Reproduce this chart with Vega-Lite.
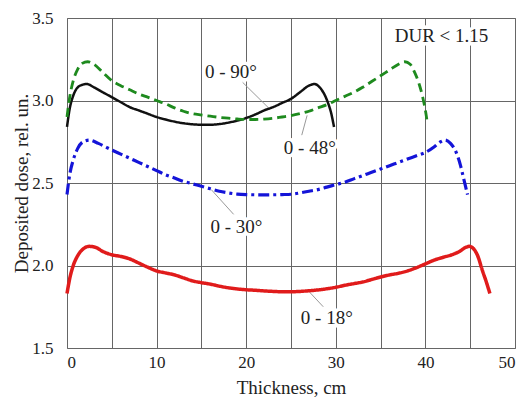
{
  "$schema": "https://vega.github.io/schema/vega-lite/v6.json",
  "width": 448,
  "height": 330,
  "autosize": "none",
  "padding": {"left": 67, "top": 18, "right": 15, "bottom": 49},
  "background": "white",
  "config": {
    "view": {"stroke": "#888", "strokeWidth": 1},
    "font": "Liberation Serif, DejaVu Serif, serif",
    "axis": {
      "domain": false,
      "ticks": false,
      "grid": true,
      "gridColor": "#666",
      "gridWidth": 1,
      "labelFont": "Liberation Serif, DejaVu Serif, serif",
      "labelFontSize": 17,
      "labelColor": "#222",
      "titleFont": "Liberation Serif, DejaVu Serif, serif",
      "titleFontSize": 19,
      "titleFontWeight": "normal",
      "titleColor": "#222"
    }
  },
  "datasets": {
    "curves": [
      {"s": "0 - 90°", "x": 0, "y": 2.84}, {"s": "0 - 90°", "x": 0.3, "y": 2.95}, {"s": "0 - 90°", "x": 0.7, "y": 3.03}, {"s": "0 - 90°", "x": 1.2, "y": 3.08}, {"s": "0 - 90°", "x": 1.7, "y": 3.095}, {"s": "0 - 90°", "x": 2.2, "y": 3.1}, {"s": "0 - 90°", "x": 3, "y": 3.08}, {"s": "0 - 90°", "x": 4, "y": 3.05}, {"s": "0 - 90°", "x": 5, "y": 3.02}, {"s": "0 - 90°", "x": 6, "y": 2.99}, {"s": "0 - 90°", "x": 7, "y": 2.96}, {"s": "0 - 90°", "x": 8, "y": 2.94}, {"s": "0 - 90°", "x": 9, "y": 2.92}, {"s": "0 - 90°", "x": 10, "y": 2.9}, {"s": "0 - 90°", "x": 11, "y": 2.885}, {"s": "0 - 90°", "x": 12, "y": 2.872}, {"s": "0 - 90°", "x": 13, "y": 2.862}, {"s": "0 - 90°", "x": 14, "y": 2.856}, {"s": "0 - 90°", "x": 15, "y": 2.853}, {"s": "0 - 90°", "x": 16, "y": 2.853}, {"s": "0 - 90°", "x": 17, "y": 2.857}, {"s": "0 - 90°", "x": 18, "y": 2.866}, {"s": "0 - 90°", "x": 19, "y": 2.878}, {"s": "0 - 90°", "x": 20, "y": 2.894}, {"s": "0 - 90°", "x": 21, "y": 2.915}, {"s": "0 - 90°", "x": 22, "y": 2.94}, {"s": "0 - 90°", "x": 23, "y": 2.96}, {"s": "0 - 90°", "x": 24, "y": 2.985}, {"s": "0 - 90°", "x": 25, "y": 3.01}, {"s": "0 - 90°", "x": 26, "y": 3.05}, {"s": "0 - 90°", "x": 27, "y": 3.09}, {"s": "0 - 90°", "x": 27.6, "y": 3.1}, {"s": "0 - 90°", "x": 28.2, "y": 3.08}, {"s": "0 - 90°", "x": 28.7, "y": 3.04}, {"s": "0 - 90°", "x": 29.1, "y": 2.99}, {"s": "0 - 90°", "x": 29.5, "y": 2.92}, {"s": "0 - 90°", "x": 29.8, "y": 2.84},

      {"s": "0 - 48°", "x": 0, "y": 2.9}, {"s": "0 - 48°", "x": 0.3, "y": 3.02}, {"s": "0 - 48°", "x": 0.7, "y": 3.12}, {"s": "0 - 48°", "x": 1.2, "y": 3.19}, {"s": "0 - 48°", "x": 1.7, "y": 3.225}, {"s": "0 - 48°", "x": 2.3, "y": 3.235}, {"s": "0 - 48°", "x": 3, "y": 3.22}, {"s": "0 - 48°", "x": 4, "y": 3.17}, {"s": "0 - 48°", "x": 5, "y": 3.12}, {"s": "0 - 48°", "x": 6, "y": 3.09}, {"s": "0 - 48°", "x": 7, "y": 3.065}, {"s": "0 - 48°", "x": 8, "y": 3.04}, {"s": "0 - 48°", "x": 9, "y": 3.02}, {"s": "0 - 48°", "x": 10, "y": 3.0}, {"s": "0 - 48°", "x": 11, "y": 2.98}, {"s": "0 - 48°", "x": 12, "y": 2.955}, {"s": "0 - 48°", "x": 13, "y": 2.935}, {"s": "0 - 48°", "x": 14, "y": 2.92}, {"s": "0 - 48°", "x": 15, "y": 2.912}, {"s": "0 - 48°", "x": 16, "y": 2.905}, {"s": "0 - 48°", "x": 17, "y": 2.898}, {"s": "0 - 48°", "x": 18, "y": 2.893}, {"s": "0 - 48°", "x": 19, "y": 2.888}, {"s": "0 - 48°", "x": 20, "y": 2.885}, {"s": "0 - 48°", "x": 21, "y": 2.885}, {"s": "0 - 48°", "x": 22, "y": 2.887}, {"s": "0 - 48°", "x": 23, "y": 2.892}, {"s": "0 - 48°", "x": 24, "y": 2.9}, {"s": "0 - 48°", "x": 25, "y": 2.908}, {"s": "0 - 48°", "x": 26, "y": 2.92}, {"s": "0 - 48°", "x": 27, "y": 2.935}, {"s": "0 - 48°", "x": 28, "y": 2.955}, {"s": "0 - 48°", "x": 29, "y": 2.975}, {"s": "0 - 48°", "x": 30, "y": 3.0}, {"s": "0 - 48°", "x": 31, "y": 3.025}, {"s": "0 - 48°", "x": 32, "y": 3.05}, {"s": "0 - 48°", "x": 33, "y": 3.08}, {"s": "0 - 48°", "x": 34, "y": 3.115}, {"s": "0 - 48°", "x": 35, "y": 3.15}, {"s": "0 - 48°", "x": 36, "y": 3.185}, {"s": "0 - 48°", "x": 37, "y": 3.22}, {"s": "0 - 48°", "x": 37.7, "y": 3.235}, {"s": "0 - 48°", "x": 38.3, "y": 3.22}, {"s": "0 - 48°", "x": 38.8, "y": 3.17}, {"s": "0 - 48°", "x": 39.3, "y": 3.1}, {"s": "0 - 48°", "x": 39.7, "y": 3.02}, {"s": "0 - 48°", "x": 40.0, "y": 2.94}, {"s": "0 - 48°", "x": 40.2, "y": 2.87},

      {"s": "0 - 30°", "x": 0, "y": 2.43}, {"s": "0 - 30°", "x": 0.3, "y": 2.55}, {"s": "0 - 30°", "x": 0.7, "y": 2.64}, {"s": "0 - 30°", "x": 1.2, "y": 2.71}, {"s": "0 - 30°", "x": 1.8, "y": 2.75}, {"s": "0 - 30°", "x": 2.5, "y": 2.76}, {"s": "0 - 30°", "x": 3.5, "y": 2.74}, {"s": "0 - 30°", "x": 5, "y": 2.7}, {"s": "0 - 30°", "x": 6, "y": 2.675}, {"s": "0 - 30°", "x": 7, "y": 2.65}, {"s": "0 - 30°", "x": 8, "y": 2.625}, {"s": "0 - 30°", "x": 9, "y": 2.6}, {"s": "0 - 30°", "x": 10, "y": 2.575}, {"s": "0 - 30°", "x": 11, "y": 2.55}, {"s": "0 - 30°", "x": 12, "y": 2.53}, {"s": "0 - 30°", "x": 13, "y": 2.51}, {"s": "0 - 30°", "x": 14, "y": 2.495}, {"s": "0 - 30°", "x": 15, "y": 2.48}, {"s": "0 - 30°", "x": 16, "y": 2.465}, {"s": "0 - 30°", "x": 17, "y": 2.45}, {"s": "0 - 30°", "x": 18, "y": 2.44}, {"s": "0 - 30°", "x": 19, "y": 2.433}, {"s": "0 - 30°", "x": 20, "y": 2.43}, {"s": "0 - 30°", "x": 22, "y": 2.428}, {"s": "0 - 30°", "x": 24, "y": 2.43}, {"s": "0 - 30°", "x": 25, "y": 2.432}, {"s": "0 - 30°", "x": 26, "y": 2.44}, {"s": "0 - 30°", "x": 27, "y": 2.45}, {"s": "0 - 30°", "x": 28, "y": 2.46}, {"s": "0 - 30°", "x": 29, "y": 2.475}, {"s": "0 - 30°", "x": 30, "y": 2.49}, {"s": "0 - 30°", "x": 31, "y": 2.505}, {"s": "0 - 30°", "x": 32, "y": 2.525}, {"s": "0 - 30°", "x": 33, "y": 2.545}, {"s": "0 - 30°", "x": 34, "y": 2.565}, {"s": "0 - 30°", "x": 35, "y": 2.585}, {"s": "0 - 30°", "x": 36, "y": 2.605}, {"s": "0 - 30°", "x": 37, "y": 2.625}, {"s": "0 - 30°", "x": 38, "y": 2.645}, {"s": "0 - 30°", "x": 39, "y": 2.665}, {"s": "0 - 30°", "x": 40, "y": 2.685}, {"s": "0 - 30°", "x": 41, "y": 2.72}, {"s": "0 - 30°", "x": 41.7, "y": 2.75}, {"s": "0 - 30°", "x": 42.2, "y": 2.76}, {"s": "0 - 30°", "x": 42.8, "y": 2.74}, {"s": "0 - 30°", "x": 43.4, "y": 2.69}, {"s": "0 - 30°", "x": 43.9, "y": 2.61}, {"s": "0 - 30°", "x": 44.3, "y": 2.52}, {"s": "0 - 30°", "x": 44.7, "y": 2.43},

      {"s": "0 - 18°", "x": 0, "y": 1.83}, {"s": "0 - 18°", "x": 0.3, "y": 1.92}, {"s": "0 - 18°", "x": 0.7, "y": 2.0}, {"s": "0 - 18°", "x": 1.2, "y": 2.06}, {"s": "0 - 18°", "x": 1.8, "y": 2.1}, {"s": "0 - 18°", "x": 2.5, "y": 2.116}, {"s": "0 - 18°", "x": 3.2, "y": 2.11}, {"s": "0 - 18°", "x": 4, "y": 2.085}, {"s": "0 - 18°", "x": 5, "y": 2.065}, {"s": "0 - 18°", "x": 6, "y": 2.055}, {"s": "0 - 18°", "x": 7, "y": 2.04}, {"s": "0 - 18°", "x": 8, "y": 2.015}, {"s": "0 - 18°", "x": 9, "y": 1.99}, {"s": "0 - 18°", "x": 10, "y": 1.967}, {"s": "0 - 18°", "x": 11, "y": 1.955}, {"s": "0 - 18°", "x": 12, "y": 1.943}, {"s": "0 - 18°", "x": 13, "y": 1.925}, {"s": "0 - 18°", "x": 14, "y": 1.907}, {"s": "0 - 18°", "x": 15, "y": 1.896}, {"s": "0 - 18°", "x": 16, "y": 1.887}, {"s": "0 - 18°", "x": 17, "y": 1.875}, {"s": "0 - 18°", "x": 18, "y": 1.865}, {"s": "0 - 18°", "x": 19, "y": 1.858}, {"s": "0 - 18°", "x": 20, "y": 1.853}, {"s": "0 - 18°", "x": 21, "y": 1.85}, {"s": "0 - 18°", "x": 22, "y": 1.846}, {"s": "0 - 18°", "x": 23, "y": 1.843}, {"s": "0 - 18°", "x": 24, "y": 1.841}, {"s": "0 - 18°", "x": 25, "y": 1.841}, {"s": "0 - 18°", "x": 26, "y": 1.843}, {"s": "0 - 18°", "x": 27, "y": 1.847}, {"s": "0 - 18°", "x": 28, "y": 1.852}, {"s": "0 - 18°", "x": 29, "y": 1.859}, {"s": "0 - 18°", "x": 30, "y": 1.868}, {"s": "0 - 18°", "x": 31, "y": 1.88}, {"s": "0 - 18°", "x": 32, "y": 1.89}, {"s": "0 - 18°", "x": 33, "y": 1.9}, {"s": "0 - 18°", "x": 34, "y": 1.915}, {"s": "0 - 18°", "x": 35, "y": 1.93}, {"s": "0 - 18°", "x": 36, "y": 1.943}, {"s": "0 - 18°", "x": 37, "y": 1.953}, {"s": "0 - 18°", "x": 38, "y": 1.967}, {"s": "0 - 18°", "x": 39, "y": 1.987}, {"s": "0 - 18°", "x": 40, "y": 2.01}, {"s": "0 - 18°", "x": 41, "y": 2.033}, {"s": "0 - 18°", "x": 42, "y": 2.05}, {"s": "0 - 18°", "x": 43, "y": 2.066}, {"s": "0 - 18°", "x": 43.8, "y": 2.085}, {"s": "0 - 18°", "x": 44.5, "y": 2.11}, {"s": "0 - 18°", "x": 44.9, "y": 2.116}, {"s": "0 - 18°", "x": 45.4, "y": 2.1}, {"s": "0 - 18°", "x": 45.9, "y": 2.05}, {"s": "0 - 18°", "x": 46.3, "y": 1.98}, {"s": "0 - 18°", "x": 46.8, "y": 1.9}, {"s": "0 - 18°", "x": 47.2, "y": 1.83}
    ],
    "leaders": [
      {"id": "90", "x": 19.6, "y": 3.11}, {"id": "90", "x": 22.5, "y": 2.955},
      {"id": "48", "x": 26.2, "y": 2.79}, {"id": "48", "x": 26.8, "y": 2.91},
      {"id": "30", "x": 16.1, "y": 2.46}, {"id": "30", "x": 18.6, "y": 2.31},
      {"id": "18", "x": 27.1, "y": 1.837}, {"id": "18", "x": 28.6, "y": 1.75}
    ],
    "labels": [
      {"t": "0 - 90°", "x": 18.3, "y": 3.17},
      {"t": "0 - 48°", "x": 27.1, "y": 2.71},
      {"t": "0 - 30°", "x": 18.9, "y": 2.235},
      {"t": "0 - 18°", "x": 29.0, "y": 1.68},
      {"t": "DUR < 1.15", "x": 41.8, "y": 3.39}
    ]
  },
  "encoding": {
    "x": {
      "field": "x", "type": "quantitative",
      "scale": {"domain": [0, 50], "nice": false, "zero": false},
      "axis": {
        "title": "Thickness, cm",
        "values": [0, 5, 10, 15, 20, 25, 30, 35, 40, 45, 50],
        "labelExpr": "datum.value % 10 === 0 ? datum.label : ''",
        "labelPadding": 6,
        "titleY": 45,
        "titleBaseline": "alphabetic"
      }
    },
    "y": {
      "field": "y", "type": "quantitative",
      "scale": {"domain": [1.5, 3.5], "nice": false, "zero": false},
      "axis": {
        "title": "Deposited dose, rel. un.",
        "values": [1.5, 2.0, 2.5, 3.0, 3.5],
        "format": ".1f",
        "labelPadding": 14,
        "titleX": -40,
        "titleY": 165,
        "titleAngle": -90,
        "titleBaseline": "alphabetic"
      }
    }
  },
  "layer": [
    {
      "data": {"name": "labels"},
      "mark": {"type": "text", "fontSize": 19, "font": "Liberation Serif, DejaVu Serif, serif", "fill": "white", "stroke": "white", "strokeWidth": 7, "align": "center", "baseline": "middle"},
      "encoding": {"text": {"field": "t"}}
    },
    {
      "data": {"name": "leaders"},
      "mark": {"type": "line", "color": "#999", "strokeWidth": 1},
      "encoding": {"detail": {"field": "id"}}
    },
    {
      "data": {"name": "curves"},
      "mark": {"type": "line", "interpolate": "monotone"},
      "encoding": {
        "color": {"field": "s", "type": "nominal", "legend": null,
          "scale": {"domain": ["0 - 90°", "0 - 48°", "0 - 30°", "0 - 18°"], "range": ["#111111", "#1e8a1e", "#1414d8", "#e01b1b"]}},
        "strokeDash": {"field": "s", "type": "nominal", "legend": null,
          "scale": {"domain": ["0 - 90°", "0 - 48°", "0 - 30°", "0 - 18°"], "range": [[1, 0], [9, 5], [11, 4, 3, 4], [1, 0]]}},
        "strokeWidth": {"field": "s", "type": "nominal", "legend": null,
          "scale": {"domain": ["0 - 90°", "0 - 48°", "0 - 30°", "0 - 18°"], "range": [2.5, 3.5, 3.5, 2.5]}}
      }
    },
    {
      "data": {"name": "labels"},
      "mark": {"type": "text", "fontSize": 19, "font": "Liberation Serif, DejaVu Serif, serif", "color": "#222", "align": "center", "baseline": "middle"},
      "encoding": {"text": {"field": "t"}}
    }
  ]
}
